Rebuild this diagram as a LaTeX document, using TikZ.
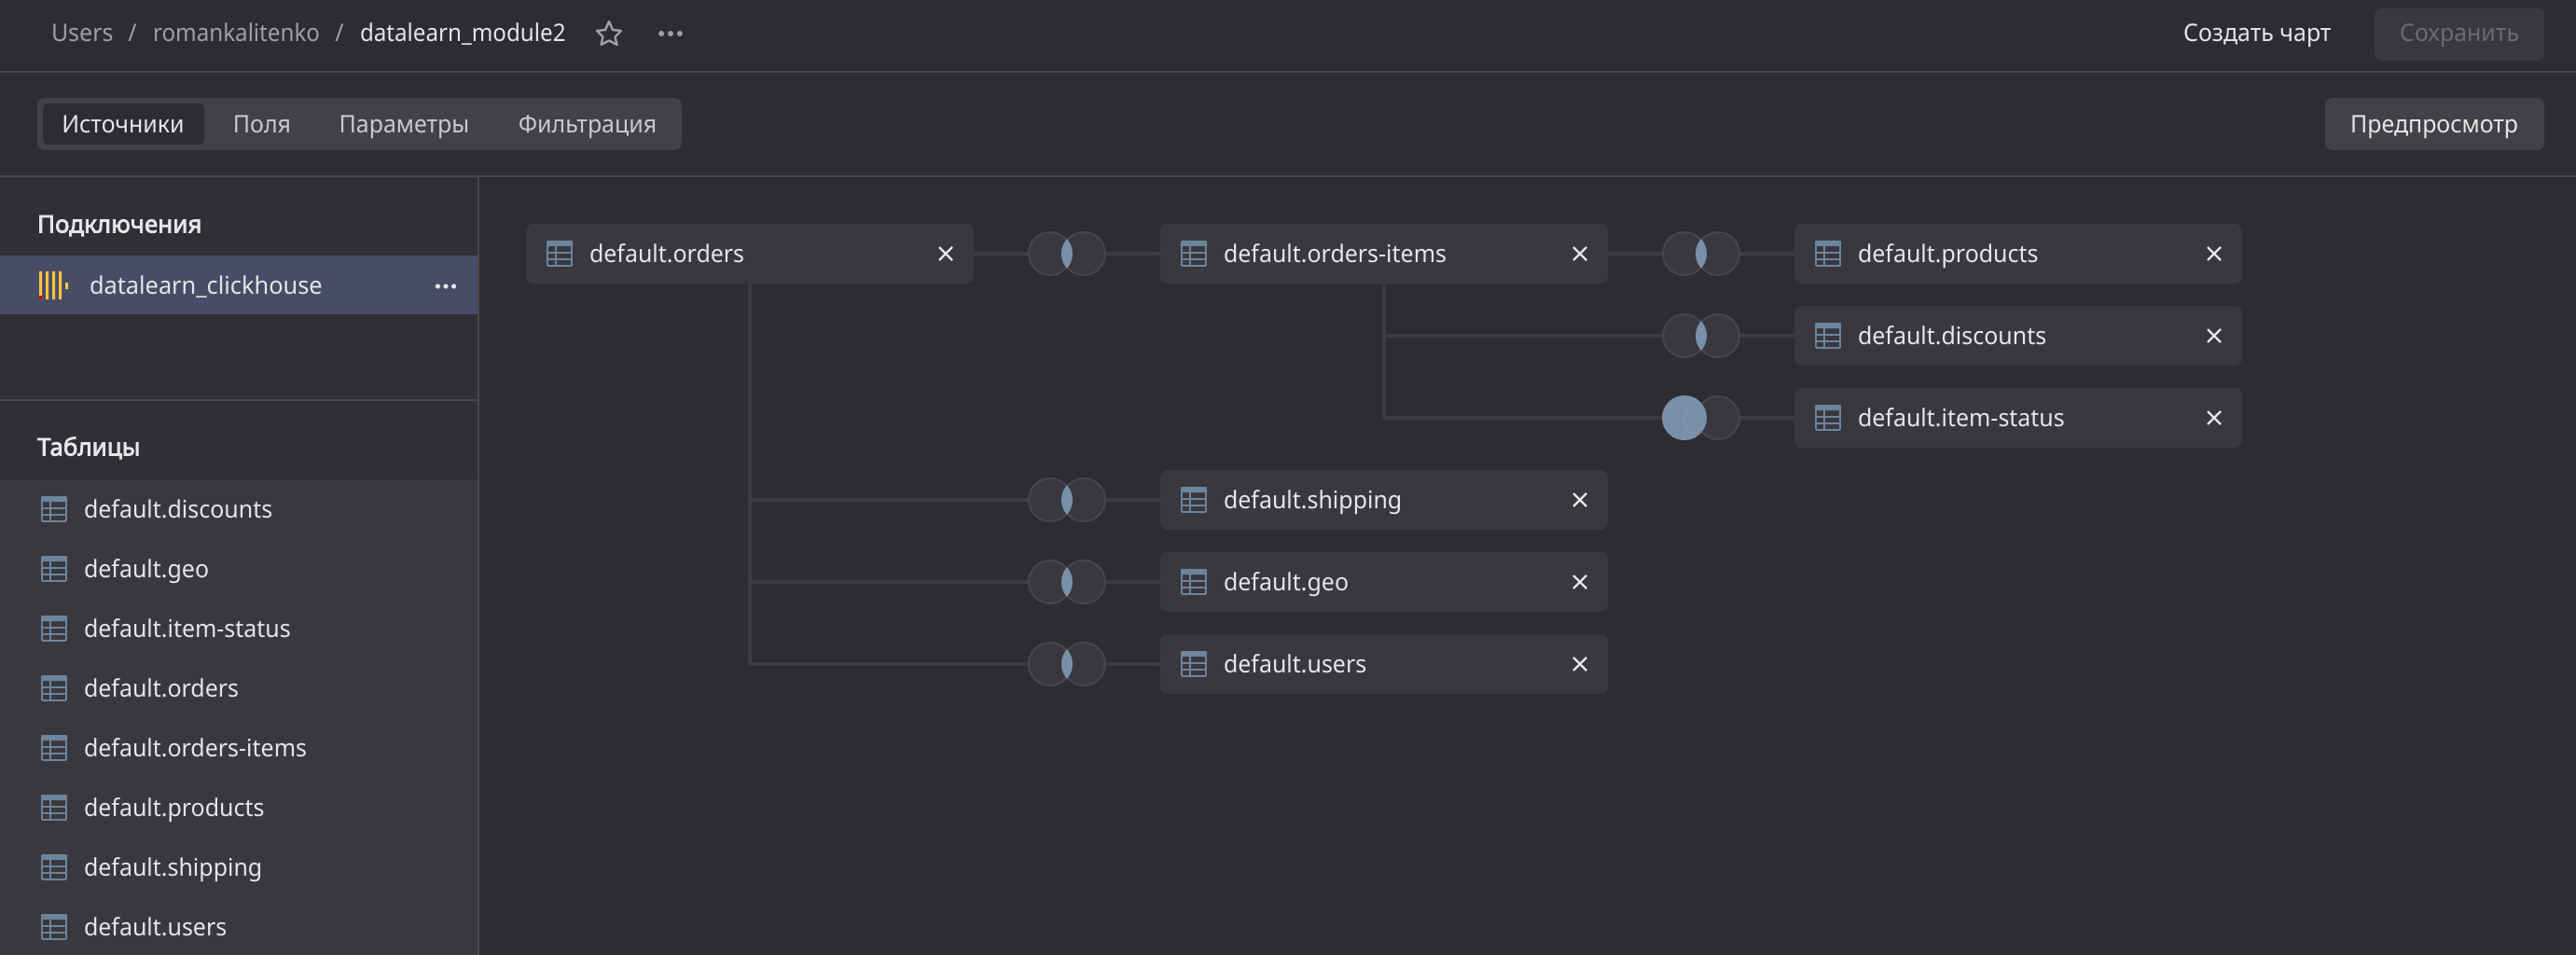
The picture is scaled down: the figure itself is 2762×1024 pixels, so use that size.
\documentclass[tikz,border=0pt]{standalone}
\usepackage{fontspec}
\setmainfont[FakeStretch=0.96]{Noto Sans}
\newfontfamily\narrowf[FakeStretch=0.93]{Noto Sans}
\newfontfamily\clickf[FakeStretch=0.975]{Noto Sans}
\newfontfamily\headf[FakeBold=3]{Noto Sans}
\usetikzlibrary{shapes.geometric}
\definecolor{bgc}{HTML}{2D2C32}
\definecolor{sidec}{HTML}{302F35}
\definecolor{rulec}{HTML}{48474C}
\definecolor{boxc}{HTML}{39383E}
\definecolor{tabc}{HTML}{424146}
\definecolor{rowc}{HTML}{484C66}
\definecolor{linkc}{HTML}{3C3B41}
\definecolor{ringc}{HTML}{47464C}
\definecolor{bluec}{HTML}{7891A9}
\definecolor{iconc}{HTML}{6C849C}
\definecolor{txtc}{HTML}{E6E6E7}
\definecolor{dimc}{HTML}{A0A0A2}
\definecolor{offc}{HTML}{6B6B6F}
\definecolor{yelc}{HTML}{F5C63C}
\tikzset{
  x=1pt,y=-1pt,
  tblbox/.style={draw=none,fill=boxc,rounded corners=8pt,minimum width=480pt,minimum height=64pt,
    inner sep=0pt,outer sep=0pt,text width=480pt,align=left,text height=19pt,text depth=0pt,
    text=txtc,font=\fontsize{26}{30}\selectfont},
  ring/.style={circle,draw=ringc,line width=2pt,fill=boxc,minimum size=46pt,inner sep=0pt,outer sep=1pt},
  link/.style={draw=linkc,line width=4pt},
  ui/.style={inner sep=0pt,outer sep=0pt,anchor=base west,text=txtc,font=\fontsize{26}{30}\selectfont},
  uic/.style={ui,anchor=base},
  head/.style={ui,font=\fontsize{26}{30}\selectfont\headf},
  panel/.style={draw=none,rounded corners=8pt},
  rulel/.style={draw=rulec,line width=2pt},
}
\newcommand{\tblicon}[2]{%
  \begin{scope}[shift={(#1,#2)}]
    \fill[iconc,rounded corners=1pt] (-14,-14) rectangle (14,-8);
    \draw[iconc,line width=1.8pt,rounded corners=1pt] (-13,-13) rectangle (13,13);
    \draw[iconc,line width=1.2pt] (-13,-1) -- (13,-1) (-13,6) -- (13,6) (-4,-9) -- (-4,13);
  \end{scope}}
\newcommand{\xmark}[2]{\draw[txtc,line width=2.4pt] (#1-7,#2-7) -- (#1+7,#2+7) (#1-7,#2+7) -- (#1+7,#2-7);}
\newcommand{\tdots}[4]{\fill[#4] (#1-#3*3.3,#2) circle (#3) (#1,#2) circle (#3) (#1+#3*3.3,#2) circle (#3);}
\newcommand{\venn}[3]{%
  \node[ring] (#3l) at (#1-18,#2) {};
  \node[ring] (#3r) at (#1+18,#2) {};
  \begin{scope}
    \clip (#1-18,#2) circle (24);
    \fill[bluec] (#1+18,#2) circle (24);
  \end{scope}}
\begin{document}
\begin{tikzpicture}
\useasboundingbox (0,0) rectangle (2762,1024);
\fill[bgc] (0,0) rectangle (2762,1024);
% side panel
\fill[sidec] (0,189) rectangle (513,1024);
\fill[rowc] (0,274) rectangle (513,337);
\fill[boxc] (0,514) rectangle (513,1024);
\draw[rulel] (0,77) -- (2762,77);
\draw[rulel] (0,189) -- (2762,189);
\draw[rulel] (513,189) -- (513,1024);
\draw[rulel] (0,429) -- (513,429);
% top bar
\node[ui,text=dimc] at (55,45) {Users};
\node[uic,text=dimc] at (142,45) {/};
\node[ui,text=dimc] at (164,45) {\narrowf romankalitenko};
\node[uic,text=dimc] at (364,45) {/};
\node[ui] at (386,45) {\narrowf datalearn\_module2};
\draw[dimc,line width=2.4pt,line join=round] (653,23) -- (657,32) -- (666,33) -- (659.5,39.5) -- (661.5,48) -- (653,43.5) -- (644.5,48) -- (646.5,39.5) -- (640,33) -- (649,32) -- cycle;
\tdots{719}{36}{3}{dimc}
\node[ui] at (2341,45) {Создать чарт};
\fill[boxc,panel] (2546,9) rectangle (2728,65);
\node[ui,text=offc] at (2573,45) {Сохранить};
% tabs
\fill[tabc,panel] (40,105) rectangle (731,161);
\fill[bgc,rounded corners=6pt] (46,111) rectangle (219,155);
\node[uic] at (132,143) {Источники};
\node[uic,text=txtc!85!bgc] at (281,143) {Поля};
\node[uic,text=txtc!85!bgc] at (433.5,143) {Параметры};
\node[uic,text=txtc!85!bgc] at (630,143) {Фильтрация};
\fill[tabc,panel] (2493,105) rectangle (2728,161);
\node[ui] at (2520,143) {Предпросмотр};
% sidebar
\node[head] at (40,249.5) {Подключения};
\fill[yelc] (42,291) rectangle (45,321) (49,291) rectangle (52,321) (56,291) rectangle (59,321) (63,291) rectangle (66,321) (70,303) rectangle (73,310);
\fill[red!80!black] (42,317) rectangle (45,321);
\node[ui] at (96,316) {\clickf datalearn\_clickhouse};
\tdots{478}{307}{2.6}{txtc}
\node[head] at (40,488.5) {Таблицы};
\foreach \yy/\tt in {546/discounts,610/geo,674/item-status,738/orders,802/orders-items,866/products,930/shipping,994/users}{
  \tblicon{58}{\yy}
  \node[ui] at (90,\yy+9.5) {default.\tt};
}
% tables
\node[tblbox] (orders) at (804,272) {\hspace*{68pt}default.orders};
\node[tblbox] (items) at (1484,272) {\hspace*{68pt}default.orders-items};
\node[tblbox] (products) at (2164,272) {\hspace*{68pt}default.products};
\node[tblbox] (discounts) at (2164,360) {\hspace*{68pt}default.discounts};
\node[tblbox] (status) at (2164,448) {\hspace*{68pt}default.item-status};
\node[tblbox] (shipping) at (1484,536) {\hspace*{68pt}default.shipping};
\node[tblbox] (geo) at (1484,624) {\hspace*{68pt}default.geo};
\node[tblbox] (users) at (1484,712) {\hspace*{68pt}default.users};
\foreach \cx/\cy in {804/272,1484/272,2164/272,2164/360,2164/448,1484/536,1484/624,1484/712}{
  \tblicon{\cx-240+36}{\cy}
  \xmark{\cx+210}{\cy}
}
% joins
\venn{1144}{272}{a}
\venn{1824}{272}{b}
\venn{1824}{360}{c}
\node[ring] (dl) at (1806,448) {};
\node[ring] (dr) at (1842,448) {};
\fill[bluec] (1806,448) circle (24);
\draw[bluec!94!white,line width=1.5pt] (1818,427.2) arc[start angle=-120,end angle=-240,radius=24];
\venn{1144}{536}{e}
\venn{1144}{624}{f}
\venn{1144}{712}{g}
% connectors
\draw[link] (orders) -- (al);
\draw[link] (ar) -- (items);
\draw[link] (items) -- (bl);
\draw[link] (br) -- (products);
\draw[link] (cr) -- (discounts);
\draw[link] (dr) -- (status);
\draw[link] (items.south) |- (cl);
\draw[link] (items.south) |- (dl);
\draw[link] (orders.south) |- (el);
\draw[link] (orders.south) |- (fl);
\draw[link] (orders.south) |- (gl);
\draw[link] (er) -- (shipping);
\draw[link] (fr) -- (geo);
\draw[link] (gr) -- (users);
\end{tikzpicture}
\end{document}
